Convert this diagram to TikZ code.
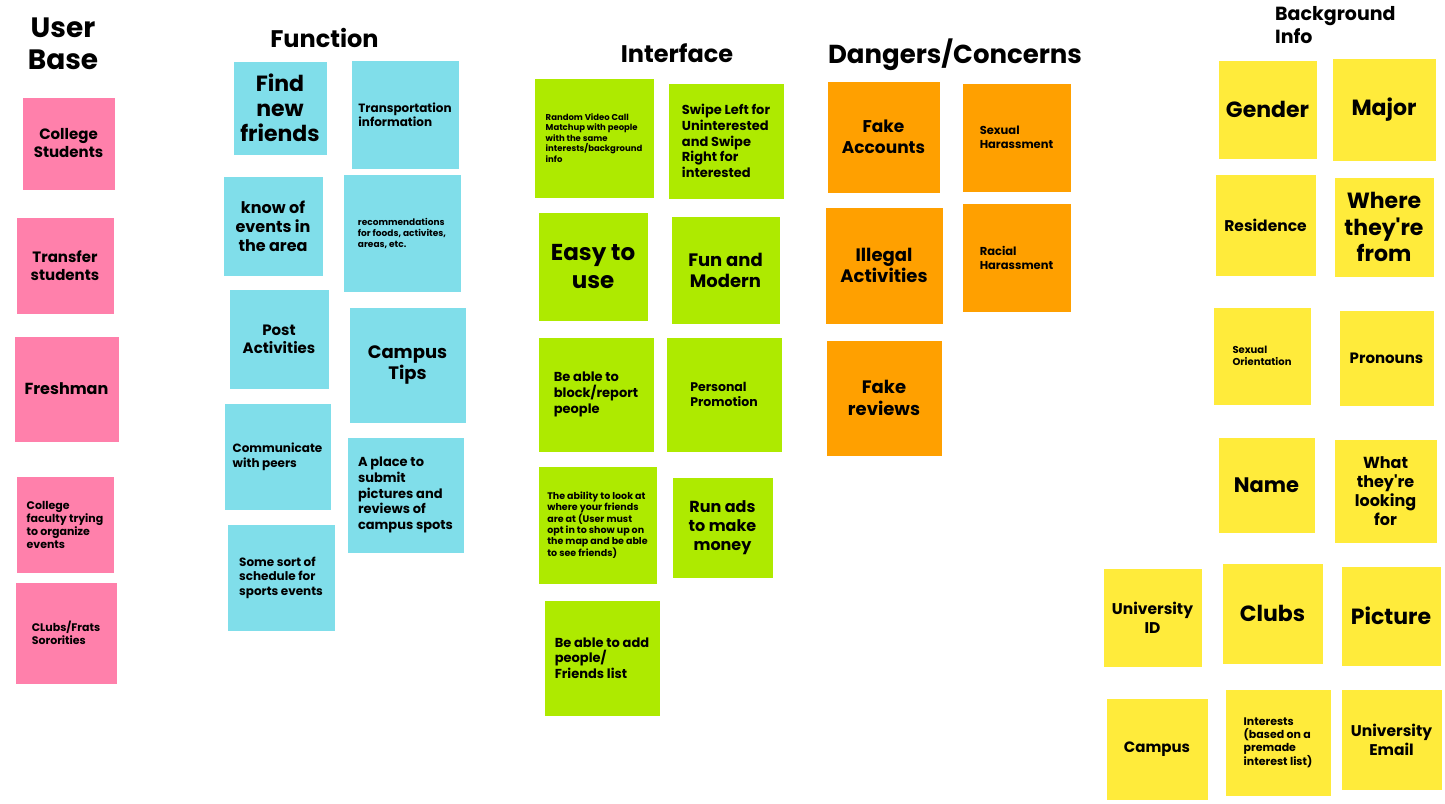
\documentclass[tikz,border=0pt]{standalone}
\usepackage{fontspec}
\setmainfont{Poppins}[Ligatures=TeXOff]
\definecolor{pk}{HTML}{FF80AB}
\definecolor{cy}{HTML}{80DEEA}
\definecolor{lm}{HTML}{AEEA00}
\definecolor{og}{HTML}{FFA000}
\definecolor{yl}{HTML}{FFEB3B}
\newcommand\fs[2]{\fontsize{#1}{#2}\selectfont\bfseries}
\tikzset{
  note/.style={rectangle, inner sep=0pt, draw=white, line width=0.6pt, text=black},
  heading/.style={inner sep=0pt, text=black},
}
\newcommand\sticky[7]{\node[note,#2,minimum width={#5-#3},minimum height={#6-#4}] (#1) at ({(#3+#5)/2},{(#4+#6)/2}) {#7};}
\begin{document}
\begin{tikzpicture}[x=1pt,y=-1pt]
\fill[white] (0,0) rectangle (1445,803);
\useasboundingbox (0,0) rectangle (1445,803);
% headings
\node[heading, anchor=north, align=center, font={\fs{28}{32}}] (hub) at (63,18) {User\\Base};
\node[heading, anchor=base, font={\fs{24}{28}}] (hfn) at (324.5,47) {Function};
\node[heading, anchor=base, font={\fs{24}{28}}] (hif) at (677,62) {Interface};
\node[heading, anchor=base, font={\fs{26}{30}}] (hdc) at (955,63) {Dangers/Concerns};
\node[heading, anchor=north west, align=left, font={\fs{19}{23}}] (hbg) at (1275,6) {Background\\Info};
% User Base
\sticky{cs}{fill=pk,align=center,font={\fs{15}{18}}}{22}{97}{115}{190}{College\\Students}
\sticky{ts}{fill=pk,align=center,font={\fs{15}{18}}}{16}{217}{114}{314}{Transfer\\students}
\sticky{fr}{fill=pk,align=center,font={\fs{16}{19}}}{14}{336}{119}{442}{Freshman}
\sticky{cf}{fill=pk,align=left,font={\fs{11}{13}}}{16}{476}{114}{573}{College\\faculty trying\\to organize\\events}
\sticky{cl}{fill=pk,align=left,font={\fs{11}{13}}}{15}{582}{117}{684}{CLubs/Frats\\Sororities}
% Function
\sticky{fnf}{fill=cy,align=center,font={\fs{22}{25}}}{233}{61}{327}{155}{Find\\new\\friends}
\sticky{tr}{fill=cy,align=left,font={\fs{12}{14}}}{351}{60}{459}{169}{Transportation\\information}
\sticky{ev}{fill=cy,align=center,font={\fs{16}{19}}}{223}{176}{323}{276}{know of\\events in\\the area}
\sticky{rec}{fill=cy,align=left,font={\fs{9}{11}}}{343}{174}{461}{292}{recommendations\\for foods, activites,\\areas, etc.}
\sticky{pa}{fill=cy,align=center,font={\fs{15}{18}}}{229}{289}{329}{389}{Post\\Activities}
\sticky{ct}{fill=cy,align=center,font={\fs{18}{21}}}{349}{307}{466}{423}{Campus\\Tips}
\sticky{cp}{fill=cy,align=left,font={\fs{12}{15}}}{224}{403}{331}{510}{Communicate\\with peers}
\sticky{ap}{fill=cy,align=left,font={\fs{13}{15.7}}}{347}{437}{464}{553}{A place to\\submit\\pictures and\\reviews of\\campus spots}
\sticky{ss}{fill=cy,align=left,font={\fs{12}{14.5}}}{227}{524}{335}{631}{Some sort of\\schedule for\\sports events}
% Interface
\sticky{rv}{fill=lm,align=left,font={\fs{8.5}{10.5}}}{534}{78}{654}{198}{Random Video Call\\Matchup with people\\with the same\\interests/background\\info}
\sticky{sw}{fill=lm,align=left,font={\fs{13}{15.7}}}{668}{83}{784}{199}{Swipe Left for\\Uninterested\\and Swipe\\Right for\\interested}
\sticky{eu}{fill=lm,align=center,font={\fs{23}{28}}}{538}{212}{648}{321}{Easy to\\use}
\sticky{fm}{fill=lm,align=center,font={\fs{18}{21}}}{671}{216}{780}{324}{Fun and\\Modern}
\sticky{bb}{fill=lm,align=left,font={\fs{13}{15.7}}}{538}{337}{654}{452}{Be able to\\block/report\\people}
\sticky{pp}{fill=lm,align=left,font={\fs{12.5}{15}}}{666}{337}{782}{452}{Personal\\Promotion}
\sticky{ab}{fill=lm,align=left,font={\fs{9.5}{11.3}}}{538}{466}{657}{584}{The ability to look at\\where your friends\\are at (User must\\opt in to show up on\\the map and be able\\to see friends)}
\sticky{ra}{fill=lm,align=center,font={\fs{16}{19}}}{672}{477}{773}{578}{Run ads\\to make\\money}
\sticky{ba}{fill=lm,align=left,font={\fs{13}{15.7}}}{544}{600}{660}{716}{Be able to add\\people/\\Friends list}
% Dangers/Concerns
\sticky{fa}{fill=og,align=center,font={\fs{17}{21}}}{827}{81}{940}{193}{Fake\\Accounts}
\sticky{sh}{fill=og,align=left,font={\fs{11.5}{14}}}{962}{83}{1071}{192}{Sexual\\Harassment}
\sticky{ia}{fill=og,align=center,font={\fs{18}{21.7}}}{825}{207}{943}{324}{Illegal\\Activities}
\sticky{rh}{fill=og,align=left,font={\fs{11.5}{14}}}{962}{203}{1071}{312}{Racial\\Harassment}
\sticky{fv}{fill=og,align=center,font={\fs{18}{21.7}}}{826}{340}{942}{456}{Fake\\reviews}
% Background Info
\sticky{ge}{fill=yl,align=center,font={\fs{22}{26}}}{1218}{60}{1317}{159}{Gender}
\sticky{mj}{fill=yl,align=center,font={\fs{22}{26}}}{1332}{58}{1436}{161}{Major}
\sticky{re}{fill=yl,align=center,font={\fs{15.5}{18}}}{1215}{174}{1316}{276}{Residence}
\sticky{wf}{fill=yl,align=center,font={\fs{22}{26.7}}}{1334}{177}{1434}{277}{Where\\they're\\from}
\sticky{so}{fill=yl,align=left,font={\fs{10}{12}}}{1213}{307}{1311}{405}{Sexual\\Orientation}
\sticky{pr}{fill=yl,align=center,font={\fs{15}{18}}}{1339}{310}{1434}{406}{Pronouns}
\sticky{nm}{fill=yl,align=center,font={\fs{21}{25}}}{1218}{437}{1315}{533}{Name}
\sticky{wl}{fill=yl,align=center,font={\fs{16}{19}}}{1334}{439}{1437}{543}{What\\they're\\looking\\for}
\sticky{ui}{fill=yl,align=center,font={\fs{15.5}{18.7}}}{1103}{568}{1202}{667}{University\\ID}
\sticky{cb}{fill=yl,align=center,font={\fs{22}{26}}}{1222}{563}{1323}{664}{Clubs}
\sticky{pc}{fill=yl,align=center,font={\fs{22}{26}}}{1341}{566}{1441}{666}{Picture}
\sticky{cm}{fill=yl,align=center,font={\fs{15}{18}}}{1106}{698}{1208}{800}{Campus}
\sticky{in}{fill=yl,align=left,font={\fs{11}{13.3}}}{1225}{689}{1331}{796}{Interests\\(based on a\\premade\\interest list)}
\sticky{ue}{fill=yl,align=center,font={\fs{15.5}{19}}}{1341}{689}{1442}{790}{University\\Email}
\end{tikzpicture}
\end{document}
